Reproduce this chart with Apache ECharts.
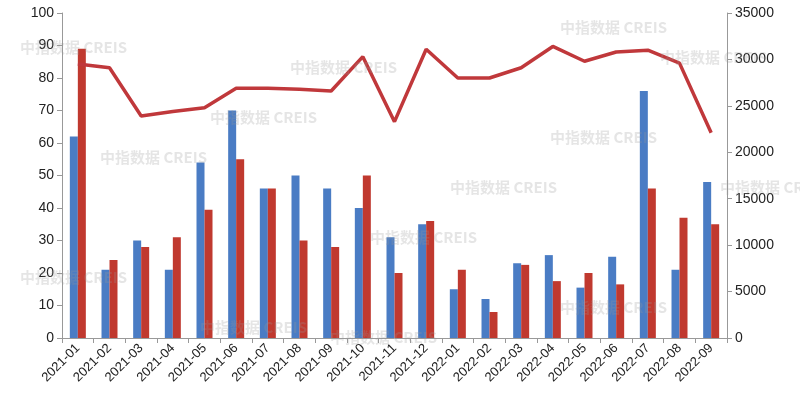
<!DOCTYPE html>
<html><head><meta charset="utf-8">
<script src="https://cdn.jsdelivr.net/npm/echarts@6/dist/echarts.min.js"></script>
<style>html,body{margin:0;padding:0;background:#fff}#c{width:800px;height:402px}</style>
</head><body><div id="c"></div>
<script>
const categories=['2021-01','2021-02','2021-03','2021-04','2021-05','2021-06','2021-07','2021-08','2021-09','2021-10','2021-11','2021-12','2022-01','2022-02','2022-03','2022-04','2022-05','2022-06','2022-07','2022-08','2022-09'];
const blueBars=[62,21,30,21,54,70,46,50,46,40,31,35,15,12,23,25.5,15.5,25,76,21,48];
const redBars=[89,24,28,31,39.5,55,46,30,28,50,20,36,21,8,22.5,17.5,20,16.5,46,37,35];
const redLine=[29500,29100,23900,24400,24800,26900,26900,26800,26600,30300,23300,31100,28000,28000,29100,31400,29800,30800,31000,29600,22100];
const wm=[[20,40],[100,150],[20,270],[210,110],[370,230],[290,60],[330,330],[450,180],[550,130],[660,50],[720,180],[560,300],[560,20],[200,320]];
const chart=echarts.init(document.getElementById('c'));
chart.setOption({
  animation:false,
  graphic:wm.map(p=>({type:'text',left:p[0],top:p[1],z:100,style:{text:'中指数据 CREIS',fill:'rgba(150,150,150,0.25)',font:'bold 15px "Noto Sans CJK SC", sans-serif'}})),
  grid:{left:62,right:73,top:13,bottom:64},
  xAxis:{type:'category',data:categories,axisLine:{lineStyle:{color:'#999'}},axisTick:{show:true,lineStyle:{color:'#999'}},
    axisLabel:{rotate:45,color:'#222',fontSize:13,interval:0}},
  yAxis:[
    {type:'value',min:0,max:100,interval:10,splitLine:{show:false},axisLine:{show:true,lineStyle:{color:'#999'}},axisTick:{show:true},axisLabel:{color:'#222',fontSize:14}},
    {type:'value',min:0,max:35000,interval:5000,splitLine:{show:false},axisLine:{show:true,lineStyle:{color:'#999'}},axisTick:{show:true},axisLabel:{color:'#222',fontSize:14,formatter:v=>String(v)}}
  ],
  series:[
    {type:'bar',data:blueBars,barWidth:8,barGap:'0%',itemStyle:{color:'#4a7cc4'}},
    {type:'bar',data:redBars,barWidth:8,itemStyle:{color:'#c0392f'}},
    {type:'line',yAxisIndex:1,data:redLine,symbol:'none',lineStyle:{color:'#c0383b',width:3.5},z:5}
  ]
});
</script></body></html>
